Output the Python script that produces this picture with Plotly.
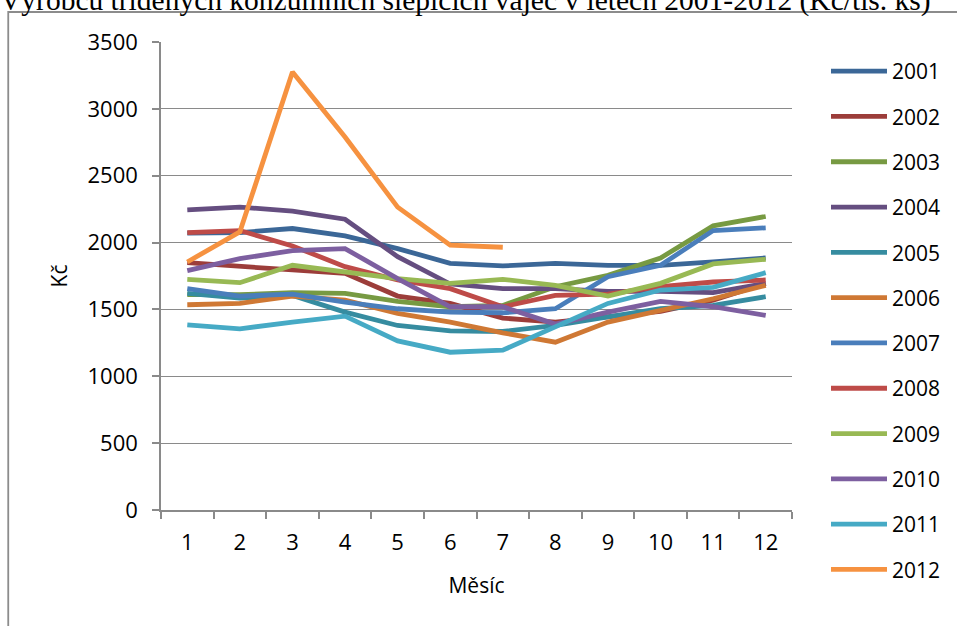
import plotly.graph_objects as go

months = ["1", "2", "3", "4", "5", "6", "7", "8", "9", "10", "11", "12"]
years = ["2001", "2002", "2003", "2004", "2005", "2006",
         "2007", "2008", "2009", "2010", "2011", "2012"]

y2001 = [2070, 2075, 2105, 2050, 1955, 1845, 1825, 1845, 1830, 1830, 1855, 1885]
y2002 = [1850, 1820, 1795, 1770, 1600, 1545, 1435, 1405, 1445, 1485, 1570, 1695]
y2003 = [1610, 1610, 1625, 1620, 1560, 1520, 1530, 1670, 1755, 1885, 2125, 2195]
y2004 = [2245, 2265, 2235, 2175, 1895, 1690, 1655, 1655, 1635, 1635, 1625, 1695]
y2005 = [1620, 1585, 1605, 1480, 1380, 1340, 1335, 1380, 1445, 1505, 1530, 1595]
y2006 = [1535, 1545, 1600, 1570, 1470, 1405, 1325, 1255, 1405, 1495, 1580, 1680]
y2007 = [1655, 1600, 1615, 1555, 1505, 1480, 1475, 1505, 1745, 1830, 2090, 2110]
y2008 = [2075, 2090, 1975, 1820, 1720, 1655, 1520, 1605, 1615, 1670, 1705, 1720]
y2009 = [1725, 1700, 1830, 1780, 1730, 1695, 1725, 1680, 1600, 1695, 1840, 1875]
y2010 = [1790, 1880, 1940, 1955, 1730, 1520, 1520, 1390, 1480, 1560, 1520, 1455]
y2011 = [1385, 1355, 1405, 1450, 1265, 1180, 1195, 1370, 1545, 1645, 1665, 1775]
y2012 = [1855, 2080, 3275, 2790, 2265, 1980, 1965, None, None, None, None, None]

series = [y2001, y2002, y2003, y2004, y2005, y2006,
          y2007, y2008, y2009, y2010, y2011, y2012]

colors = ["#3B6797", "#9C3D3A", "#779A42", "#654E80", "#368CA0", "#CF7834",
          "#4A7EBB", "#BE4B48", "#98B954", "#7D5FA0", "#46AAC5", "#F69240"]

title_text = "Výrobců tříděných konzumních slepičích vajec v letech 2001-2012 (Kč/tis. ks)"

fig = go.Figure()
for name, vals, col in zip(years, series, colors):
    fig.add_trace(go.Scatter(
        x=months, y=vals, name=name, mode="lines",
        line=dict(color=col, width=4.8),
        legendgroup=name,
    ))

W, H = 957, 626
L, R, T, B = 161, 164, 42, 116
pw, ph = W - L - R, H - T - B

def px(x):
    return (x - L) / pw

def py(y):
    return (H - B - y) / ph

fig.update_layout(
    width=W, height=H,
    margin=dict(l=L, r=R, t=T, b=B, pad=0),
    paper_bgcolor="white", plot_bgcolor="white",
    font=dict(family="Open Sans", size=22, color="black"),
    title=dict(text=title_text, xref="container", yref="container",
               x=0.0, xanchor="left", y=1.0, yanchor="middle",
               font=dict(family="Liberation Serif", size=29.5, color="black")),
    showlegend=True,
    legend=dict(x=px(826), y=py(51), xanchor="left", yanchor="top",
                itemwidth=56, tracegroupgap=15, bgcolor="rgba(0,0,0,0)",
                maxheight=620,
                font=dict(family="Open Sans", size=21)),
    xaxis=dict(type="category", tickson="boundaries", ticks="outside",
               range=[-0.5, 11.5],
               ticklen=7, tickcolor="#8a8a8a", tickwidth=1.5,
               showline=True, linecolor="#8a8a8a", linewidth=1.5,
               showgrid=False, ticklabelstandoff=12,
               title=dict(text="Měsíc", standoff=23,
                          font=dict(family="Open Sans", size=21))),
    yaxis=dict(range=[0, 3500], dtick=500, ticks="outside", ticklen=7,
               tickcolor="#8a8a8a", tickwidth=1.5,
               showline=True, linecolor="#8a8a8a", linewidth=1.5,
               showgrid=True, gridcolor="#8a8a8a", gridwidth=1.3,
               zeroline=False, ticklabelstandoff=10,
               title=dict(text="Kč", standoff=14,
                          font=dict(family="Open Sans", size=21))),
    shapes=[dict(type="rect", xref="paper", yref="paper",
                 x0=px(8), x1=px(1200), y0=py(900), y1=py(12),
                 line=dict(color="#8c8c8c", width=1.8), layer="below")],
)

fig.write_html("out.html")
